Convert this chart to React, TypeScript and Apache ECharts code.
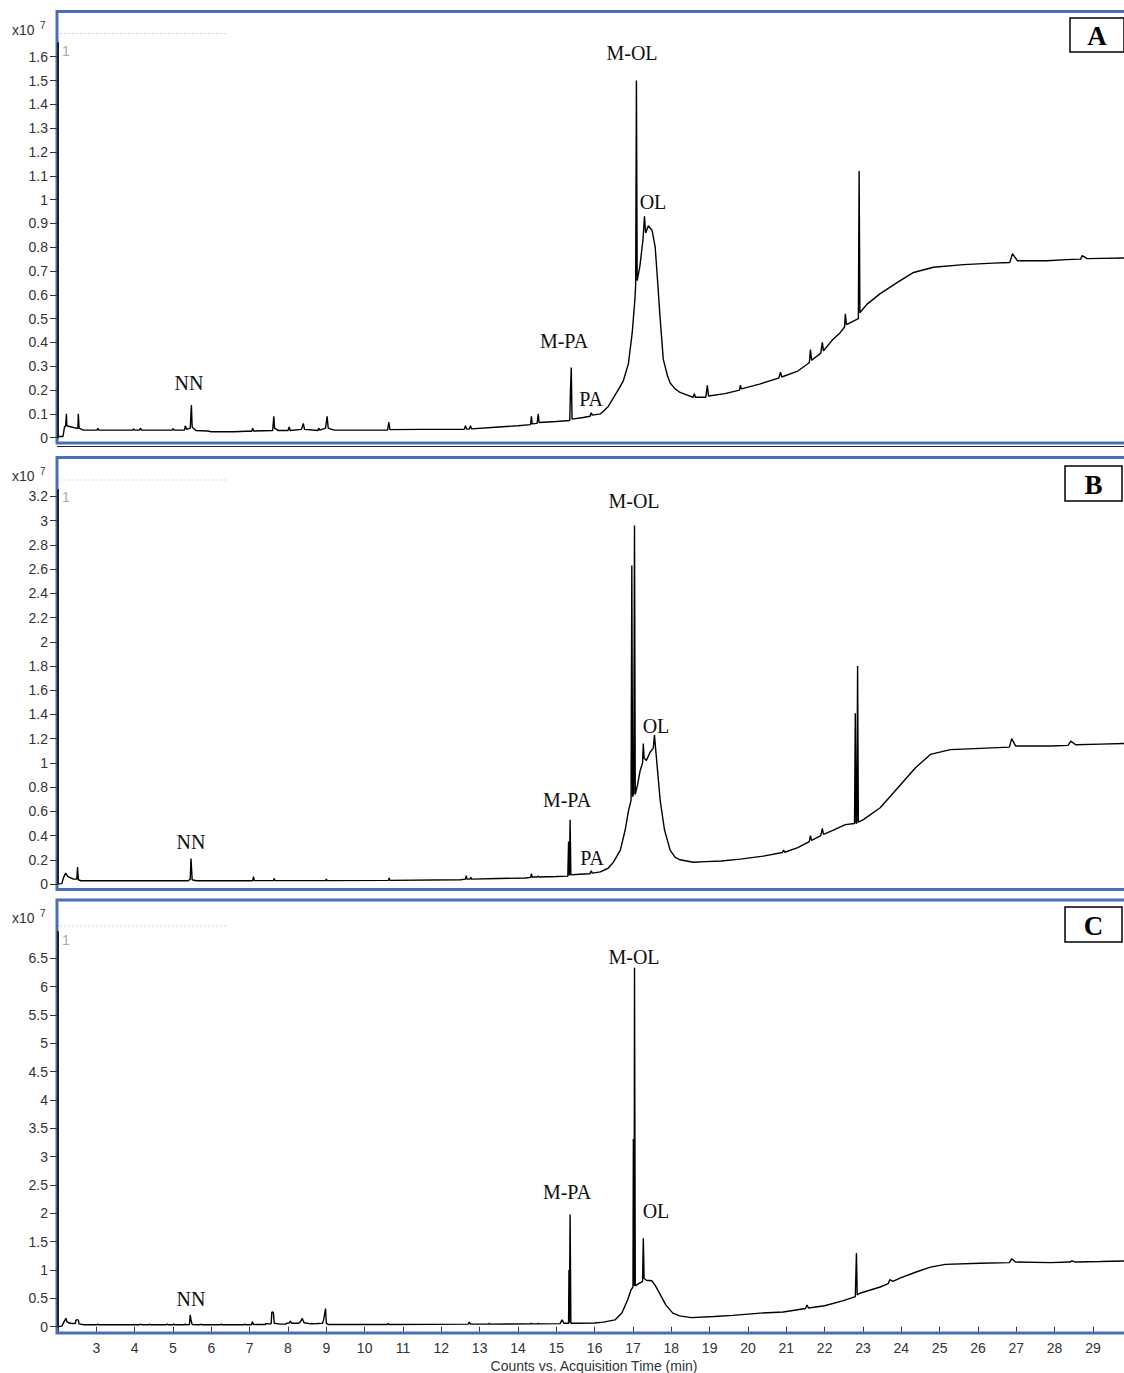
import React, { useEffect, useRef } from "react";
import * as echarts from "echarts";

// ---- DATA (time in min, counts in x10^7) ----
const traceA: [number, number][] = [
  [2.0, 0.005], [2.13, 0.005], [2.17, 0.045], [2.2, 0.05], [2.22, 0.1], [2.23, 0.05], [2.35, 0.045], [2.47, 0.04],
  [2.52, 0.04], [2.53, 0.1], [2.55, 0.04], [2.66, 0.032], [3.02, 0.032], [3.04, 0.04], [3.06, 0.032], [3.95, 0.032],
  [3.97, 0.037], [4.0, 0.032], [4.13, 0.032], [4.15, 0.04], [4.18, 0.032], [4.98, 0.032], [5.0, 0.038], [5.03, 0.032],
  [5.3, 0.032], [5.32, 0.05], [5.36, 0.035], [5.45, 0.04], [5.48, 0.137], [5.5, 0.045], [5.53, 0.04], [5.6, 0.03],
  [5.9, 0.028], [6.0, 0.025], [6.6, 0.025], [6.9, 0.027], [7.05, 0.027], [7.08, 0.04], [7.1, 0.028], [7.6, 0.03],
  [7.63, 0.09], [7.65, 0.04], [7.75, 0.03], [8.0, 0.03], [8.03, 0.045], [8.06, 0.03], [8.35, 0.035], [8.4, 0.06],
  [8.43, 0.035], [8.78, 0.03], [8.8, 0.04], [8.83, 0.032], [8.98, 0.04], [9.02, 0.09], [9.05, 0.04], [9.2, 0.032],
  [10.6, 0.032], [10.63, 0.065], [10.66, 0.034], [11.5, 0.035], [12.6, 0.035], [12.63, 0.05], [12.66, 0.036],
  [12.73, 0.036], [12.76, 0.05], [12.79, 0.037], [13.5, 0.045], [14.0, 0.05], [14.33, 0.055], [14.35, 0.09],
  [14.37, 0.058], [14.5, 0.06], [14.53, 0.1], [14.55, 0.064], [15.0, 0.068], [15.35, 0.072], [15.37, 0.2],
  [15.39, 0.295], [15.41, 0.078], [15.7, 0.085], [15.88, 0.09], [15.91, 0.105], [15.94, 0.095], [16.15, 0.1],
  [16.35, 0.13], [16.5, 0.17], [16.65, 0.21], [16.75, 0.24], [16.88, 0.31], [16.98, 0.44], [17.05, 0.58],
  [17.07, 0.64], [17.09, 1.5], [17.11, 0.66], [17.18, 0.72], [17.26, 0.83], [17.3, 0.93], [17.33, 0.86],
  [17.4, 0.89], [17.5, 0.87], [17.58, 0.8], [17.65, 0.64], [17.7, 0.52], [17.79, 0.33], [17.9, 0.26], [17.97, 0.23],
  [18.1, 0.205], [18.23, 0.19], [18.4, 0.18], [18.57, 0.17], [18.6, 0.185], [18.63, 0.17], [18.9, 0.17],
  [18.94, 0.22], [18.97, 0.175], [19.4, 0.185], [19.78, 0.2], [19.8, 0.22], [19.83, 0.205], [20.3, 0.225],
  [20.8, 0.25], [20.85, 0.275], [20.88, 0.255], [21.3, 0.28], [21.6, 0.315], [21.63, 0.37], [21.66, 0.325],
  [21.9, 0.355], [21.94, 0.4], [21.97, 0.365], [22.2, 0.41], [22.4, 0.44], [22.52, 0.465], [22.54, 0.52],
  [22.57, 0.475], [22.75, 0.49], [22.88, 0.5], [22.9, 1.12], [22.92, 0.525], [23.1, 0.56], [23.45, 0.605],
  [23.9, 0.652], [24.32, 0.694], [24.84, 0.716], [25.62, 0.727], [26.4, 0.733], [26.83, 0.736], [26.9, 0.773],
  [27.03, 0.743], [27.8, 0.743], [28.3, 0.748], [28.68, 0.75], [28.72, 0.765], [28.85, 0.752], [29.2, 0.753],
  [29.81, 0.755],
];

const traceB: [number, number][] = [
  [2.0, 0], [2.1, 0.003], [2.14, 0.05], [2.2, 0.09], [2.26, 0.06], [2.4, 0.04], [2.49, 0.04], [2.51, 0.14],
  [2.53, 0.035], [2.6, 0.027], [5.4, 0.027], [5.45, 0.04], [5.47, 0.21], [5.5, 0.035], [5.6, 0.027], [7.08, 0.027],
  [7.1, 0.06], [7.12, 0.028], [7.62, 0.028], [7.64, 0.045], [7.66, 0.028], [8.98, 0.028], [9.0, 0.04], [9.02, 0.028],
  [10.62, 0.03], [10.64, 0.05], [10.66, 0.03], [12.5, 0.035], [12.63, 0.04], [12.65, 0.07], [12.67, 0.04],
  [12.75, 0.04], [12.77, 0.055], [12.79, 0.04], [13.5, 0.045], [14.2, 0.05], [14.33, 0.055], [14.35, 0.085],
  [14.37, 0.058], [14.5, 0.058], [14.53, 0.065], [14.55, 0.058], [15.0, 0.062], [15.3, 0.065], [15.32, 0.35],
  [15.34, 0.07], [15.36, 0.53], [15.38, 0.075], [15.6, 0.08], [15.88, 0.085], [15.91, 0.11], [15.94, 0.09],
  [16.15, 0.1], [16.35, 0.13], [16.49, 0.18], [16.67, 0.28], [16.8, 0.45], [16.88, 0.6], [16.95, 0.69],
  [16.97, 2.63], [16.99, 0.72], [17.02, 0.75], [17.04, 2.96], [17.06, 0.74], [17.12, 0.82], [17.19, 0.94],
  [17.25, 1.0], [17.27, 1.16], [17.29, 1.04], [17.35, 1.02], [17.45, 1.09], [17.53, 1.12], [17.56, 1.23],
  [17.59, 1.12], [17.64, 0.94], [17.71, 0.69], [17.82, 0.45], [17.97, 0.28], [18.1, 0.22], [18.23, 0.2],
  [18.57, 0.18], [18.9, 0.185], [19.3, 0.19], [19.8, 0.205], [20.4, 0.23], [20.9, 0.26], [20.93, 0.28],
  [20.96, 0.262], [21.3, 0.3], [21.6, 0.35], [21.63, 0.4], [21.66, 0.36], [21.9, 0.4], [21.94, 0.46], [21.97, 0.41],
  [22.2, 0.44], [22.54, 0.49], [22.78, 0.5], [22.8, 1.41], [22.82, 0.5], [22.84, 0.505], [22.86, 1.8], [22.88, 0.51],
  [23.0, 0.53], [23.45, 0.63], [23.98, 0.82], [24.37, 0.96], [24.76, 1.07], [25.28, 1.11], [26.06, 1.12],
  [26.82, 1.13], [26.88, 1.2], [26.98, 1.14], [27.89, 1.14], [28.35, 1.145], [28.42, 1.18], [28.55, 1.15],
  [29.2, 1.155], [29.81, 1.16],
];

const traceC: [number, number][] = [
  [2.0, 0], [2.1, 0.01], [2.16, 0.09], [2.21, 0.15], [2.23, 0.09], [2.31, 0.06], [2.45, 0.055], [2.47, 0.12],
  [2.53, 0.12], [2.55, 0.05], [2.68, 0.035], [3.02, 0.035], [3.04, 0.045], [3.06, 0.035], [4.13, 0.035],
  [4.15, 0.045], [4.18, 0.035], [4.37, 0.035], [4.39, 0.045], [4.41, 0.035], [4.83, 0.035], [4.85, 0.05],
  [4.87, 0.035], [5.0, 0.035], [5.02, 0.05], [5.04, 0.035], [5.3, 0.035], [5.32, 0.05], [5.34, 0.035], [5.43, 0.04],
  [5.45, 0.21], [5.47, 0.12], [5.5, 0.04], [5.72, 0.035], [5.74, 0.05], [5.76, 0.035], [6.24, 0.035], [6.26, 0.05],
  [6.28, 0.035], [6.85, 0.035], [6.87, 0.05], [6.89, 0.035], [7.05, 0.035], [7.07, 0.09], [7.1, 0.04], [7.4, 0.04],
  [7.42, 0.055], [7.5, 0.05], [7.56, 0.05], [7.58, 0.26], [7.62, 0.25], [7.64, 0.06], [7.8, 0.045], [7.95, 0.045],
  [7.97, 0.06], [8.03, 0.065], [8.06, 0.1], [8.1, 0.06], [8.28, 0.06], [8.33, 0.09], [8.37, 0.15], [8.42, 0.07],
  [8.6, 0.05], [8.62, 0.06], [8.64, 0.05], [8.9, 0.06], [8.93, 0.12], [8.98, 0.32], [9.0, 0.06], [9.05, 0.04],
  [10.6, 0.04], [10.62, 0.06], [10.64, 0.04], [12.7, 0.045], [12.73, 0.08], [12.76, 0.045], [13.23, 0.045],
  [13.25, 0.06], [13.27, 0.045], [14.33, 0.05], [14.35, 0.06], [14.37, 0.05], [14.51, 0.05], [14.53, 0.06],
  [14.55, 0.05], [15.1, 0.055], [15.15, 0.12], [15.2, 0.06], [15.32, 0.06], [15.33, 1.0], [15.34, 0.07],
  [15.36, 1.98], [15.38, 0.06], [15.5, 0.06], [16.0, 0.065], [16.23, 0.08], [16.53, 0.12], [16.71, 0.24],
  [16.86, 0.47], [16.95, 0.65], [17.0, 0.7], [17.01, 3.31], [17.02, 0.72], [17.03, 0.74], [17.04, 6.33],
  [17.06, 0.72], [17.15, 0.76], [17.25, 0.8], [17.27, 1.56], [17.29, 0.85], [17.35, 0.82], [17.49, 0.81],
  [17.58, 0.73], [17.67, 0.62], [17.86, 0.38], [18.04, 0.24], [18.22, 0.19], [18.52, 0.16], [19.12, 0.18],
  [19.6, 0.2], [20.32, 0.24], [20.92, 0.26], [21.5, 0.32], [21.54, 0.38], [21.58, 0.33], [22.0, 0.37],
  [22.49, 0.46], [22.8, 0.53], [22.83, 1.3], [22.85, 0.56], [22.92, 0.59], [23.45, 0.7], [23.66, 0.76],
  [23.7, 0.83], [23.78, 0.8], [23.98, 0.86], [24.37, 0.96], [24.76, 1.05], [25.15, 1.1], [26.06, 1.12],
  [26.82, 1.13], [26.88, 1.2], [26.98, 1.14], [27.89, 1.13], [28.4, 1.14], [28.45, 1.16], [28.55, 1.14],
  [29.2, 1.15], [29.81, 1.16],
];

const yTicksA = [0, 0.1, 0.2, 0.3, 0.4, 0.5, 0.6, 0.7, 0.8, 0.9, 1, 1.1, 1.2, 1.3, 1.4, 1.5, 1.6];
const yTicksB = [0, 0.2, 0.4, 0.6, 0.8, 1, 1.2, 1.4, 1.6, 1.8, 2, 2.2, 2.4, 2.6, 2.8, 3, 3.2];
const yTicksC = [0, 0.5, 1, 1.5, 2, 2.5, 3, 3.5, 4, 4.5, 5, 5.5, 6, 6.5];
const xTickMarks = [2, 3, 4, 5, 6, 7, 8, 9, 10, 11, 12, 13, 14, 15, 16, 17, 18, 19, 20, 21, 22, 23, 24, 25, 26, 27, 28, 29];
const xTickLabels = [3, 4, 5, 6, 7, 8, 9, 10, 11, 12, 13, 14, 15, 16, 17, 18, 19, 20, 21, 22, 23, 24, 25, 26, 27, 28, 29];
const panelLetters = ["A", "B", "C"];
const xTitle = "Counts vs. Acquisition Time (min)";
const scaleText = "x10";
const scaleExp = "7";

// ---- LAYOUT ----
const X_MIN = 2;
const X_MAX = 29.81;
const GRID_LEFT = 58;
const GRID_WIDTH = 1066;

const panels = [
  { data: traceA, ticks: yTicksA, top: 43, zero: 437.7, ppu: 238.1, frameTop: 11.5, frameBottom: 443, letterBox: [1070, 18, 54, 34] },
  { data: traceB, ticks: yTicksB, top: 490, zero: 884, ppu: 121.1, frameTop: 457.5, frameBottom: 889.5, letterBox: [1065, 466, 57, 35] },
  { data: traceC, ticks: yTicksC, top: 932, zero: 1326.7, ppu: 56.7, frameTop: 900, frameBottom: 1333, letterBox: [1065, 907, 57, 35] },
];

const peakLabels = [
  [
    { t: "M-OL", x: 632, y: 53 },
    { t: "OL", x: 653, y: 202 },
    { t: "M-PA", x: 564, y: 341 },
    { t: "PA", x: 591, y: 399 },
    { t: "NN", x: 189, y: 383 },
  ],
  [
    { t: "M-OL", x: 634, y: 501 },
    { t: "OL", x: 656, y: 726 },
    { t: "M-PA", x: 567, y: 800 },
    { t: "PA", x: 592, y: 858 },
    { t: "NN", x: 191, y: 842 },
  ],
  [
    { t: "M-OL", x: 634, y: 957 },
    { t: "OL", x: 656, y: 1211 },
    { t: "M-PA", x: 567, y: 1192 },
    { t: "NN", x: 191, y: 1299 },
  ],
];

const scaleLabelY = [30, 476, 918];
const oneLabelY = [51, 497, 940];
const dottedY = [33.5, 480, 926];

export default function App() {
  const ref = useRef<HTMLDivElement>(null);

  useEffect(() => {
    if (!ref.current) return;
    const chart = echarts.init(ref.current, null, { renderer: "svg" });

    const grids = panels.map((p) => ({
      left: GRID_LEFT,
      top: p.top,
      width: GRID_WIDTH,
      height: p.zero - p.top,
      containLabel: false,
    }));

    const xAxes = panels.map((p, i) => ({
      type: "value",
      gridIndex: i,
      min: X_MIN,
      max: X_MAX,
      show: i === 2,
      position: "bottom",
      offset: 8,
      axisLine: { show: false },
      splitLine: { show: false },
      axisTick: {
        show: true,
        length: 5,
        customValues: xTickMarks,
        lineStyle: { color: "#333", width: 1 },
      },
      axisLabel: {
        show: true,
        customValues: xTickLabels,
        fontSize: 14,
        fontFamily: "Liberation Sans",
        color: "#333",
        margin: 6,
      },
    }));

    const yAxes = panels.map((p, i) => ({
      type: "value",
      gridIndex: i,
      min: 0,
      max: (p.zero - p.top) / p.ppu,
      z: 10,
      axisLine: { show: true, lineStyle: { color: "#222", width: 2 } },
      splitLine: { show: false },
      axisTick: {
        show: true,
        length: 8,
        customValues: p.ticks,
        lineStyle: { color: "#333", width: 1 },
      },
      axisLabel: {
        show: true,
        customValues: p.ticks,
        fontSize: 14,
        fontFamily: "Liberation Sans",
        color: "#333",
        margin: 10,
        formatter: (v: number) => String(v),
      },
    }));

    const series = panels.map((p, i) => ({
      type: "line",
      xAxisIndex: i,
      yAxisIndex: i,
      data: p.data,
      showSymbol: false,
      symbol: "none",
      lineStyle: { color: "#000", width: 1.4 },
      z: 3,
    }));

    const graphic: any[] = [];
    panels.forEach((p, i) => {
      graphic.push({
        type: "rect",
        z: 0,
        shape: { x: 57, y: p.frameTop, width: 1100, height: p.frameBottom - p.frameTop },
        style: { fill: "none", stroke: "#4a6fb6", lineWidth: 3 },
        silent: true,
      });
      graphic.push({
        type: "line",
        z: 0,
        shape: { x1: 60, y1: dottedY[i], x2: 226, y2: dottedY[i] },
        style: { stroke: "#d8d8d8", lineWidth: 1, lineDash: [2, 2] },
        silent: true,
      });
      const [bx, by, bw, bh] = p.letterBox;
      graphic.push({
        type: "rect",
        z: 20,
        shape: { x: bx, y: by, width: bw, height: bh },
        style: { fill: "#fff", stroke: "#000", lineWidth: 1.5 },
        silent: true,
      });
      graphic.push({
        type: "text",
        z: 21,
        style: {
          text: panelLetters[i],
          x: bx + bw / 2,
          y: by + bh / 2 + 1,
          font: 'bold 27px "Liberation Serif"',
          fill: "#000",
          textAlign: "center",
          textVerticalAlign: "middle",
        },
        silent: true,
      });
      graphic.push({
        type: "text",
        z: 21,
        style: {
          text: scaleText,
          x: 12,
          y: scaleLabelY[i],
          font: '14px "Liberation Sans"',
          fill: "#333",
          textAlign: "left",
          textVerticalAlign: "middle",
        },
        silent: true,
      });
      graphic.push({
        type: "text",
        z: 21,
        style: {
          text: scaleExp,
          x: 40,
          y: scaleLabelY[i] - 5,
          font: '10px "Liberation Sans"',
          fill: "#333",
          textAlign: "left",
          textVerticalAlign: "middle",
        },
        silent: true,
      });
      graphic.push({
        type: "text",
        z: 21,
        style: {
          text: "1",
          x: 62,
          y: oneLabelY[i],
          font: '14px "Liberation Sans"',
          fill: "#aaa",
          textAlign: "left",
          textVerticalAlign: "middle",
        },
        silent: true,
      });
      peakLabels[i].forEach((l) => {
        graphic.push({
          type: "text",
          z: 21,
          style: {
            text: l.t,
            x: l.x,
            y: l.y,
            font: '20px "Liberation Serif"',
            fill: "#111",
            textAlign: "center",
            textVerticalAlign: "middle",
          },
          silent: true,
        });
      });
    });
    graphic.push({
      type: "line",
      z: 0,
      shape: { x1: 57, y1: 446.5, x2: 1124, y2: 446.5 },
      style: { stroke: "#222", lineWidth: 1 },
      silent: true,
    });
    graphic.push({
      type: "text",
      z: 21,
      style: {
        text: xTitle,
        x: 594,
        y: 1366,
        font: '14px "Liberation Sans"',
        fill: "#333",
        textAlign: "center",
        textVerticalAlign: "middle",
      },
      silent: true,
    });

    chart.setOption({
      animation: false,
      backgroundColor: "#fff",
      grid: grids,
      xAxis: xAxes,
      yAxis: yAxes,
      series,
      graphic,
    } as any);

    return () => chart.dispose();
  }, []);

  return (
    <div
      ref={ref}
      style={{ position: "absolute", left: 0, top: 0, width: 1124, height: 1373 }}
    />
  );
}
